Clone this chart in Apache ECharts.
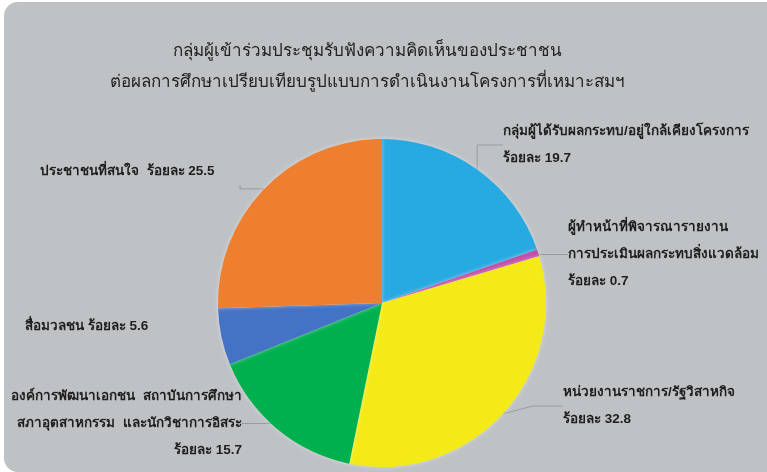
<!DOCTYPE html>
<html>
<head>
<meta charset="utf-8">
<script src="https://cdn.jsdelivr.net/npm/echarts@6/dist/echarts.min.js"></script>
<style>
html,body{margin:0;padding:0;background:#fff;width:767px;height:472px;overflow:hidden;}
#card{position:absolute;left:4px;top:2px;width:763px;height:470px;background:#bfc2c5;border-radius:14px 0 0 14px;}
#chart{width:763px;height:470px;}
</style>
</head>
<body>
<div id="card"><div id="chart"></div></div>
<script>
var titleLines = ['กลุ่มผู้เข้าร่วมประชุมรับฟังความคิดเห็นของประชาชน', 'ต่อผลการศึกษาเปรียบเทียบรูปแบบการดำเนินงานโครงการที่เหมาะสมฯ'];
var categories = [
  'กลุ่มผู้ได้รับผลกระทบ/อยู่ใกล้เคียงโครงการ',
  'ผู้ทำหน้าที่พิจารณารายงาน\nการประเมินผลกระทบสิ่งแวดล้อม',
  'หน่วยงานราชการ/รัฐวิสาหกิจ',
  'องค์การพัฒนาเอกชน  สถาบันการศึกษา\nสภาอุตสาหกรรม  และนักวิชาการอิสระ',
  'สื่อมวลชน',
  'ประชาชนที่สนใจ'
];
var values = [19.7, 0.7, 32.8, 15.7, 5.6, 25.5];
var percentPrefix = 'ร้อยละ';
var nameValueSep = ['\n', '\n', '\n', '\n', ' ', '  '];
var colors = ['#27a9e1', '#c24ea9', '#f4ea17', '#00b04f', '#4472c4', '#ee7f2f'];
// label anchor placement (layout only)
var labelPos = [
  {x: 499, y: 116, align: 'left'},
  {x: 564, y: 212, align: 'left'},
  {x: 559, y: 377, align: 'left'},
  {x: 238, y: 381, align: 'right'},
  {x: 21, y: 311, align: 'left'},
  {x: 36, y: 156, align: 'left'}
];

var chart = echarts.init(document.getElementById('chart'), null, {renderer: 'canvas'});
var data = categories.map(function (c, i) {
  return {name: c, value: values[i], itemStyle: {color: colors[i]}};
});
chart.setOption({
  backgroundColor: 'transparent',
  title: {
    text: titleLines.join('\n'),
    left: 358, top: 29, textAlign: 'center',
    textStyle: {fontSize: 17, fontWeight: 'normal', color: '#222', lineHeight: 31, fontFamily: 'sans-serif'}
  },
  series: [{
    type: 'pie',
    center: [378, 301],
    radius: 164,
    startAngle: 90,
    clockwise: true,
    animation: false,
    data: data,
    itemStyle: {borderWidth: 0, shadowColor: 'rgba(255,255,255,0.45)', shadowBlur: 4},
    label: {
      show: true,
      overflow: 'none',
      width: 400,
      formatter: function (p) {
        return p.name + nameValueSep[p.dataIndex] + percentPrefix + ' ' + p.value;
      },
      fontSize: 13.5, fontWeight: 'bold', color: '#1e1e1e', lineHeight: 27,
      fontFamily: 'sans-serif'
    },
    labelLine: {show: true, lineStyle: {color: '#9a9c9f', width: 1}, length: 20, length2: 30},
    labelLayout: function (params) {
      var p = labelPos[params.dataIndex];
      return {x: p.x, y: p.y, align: p.align, verticalAlign: 'top', hideOverlap: false};
    }
  }]
});
</script>
</body>
</html>
